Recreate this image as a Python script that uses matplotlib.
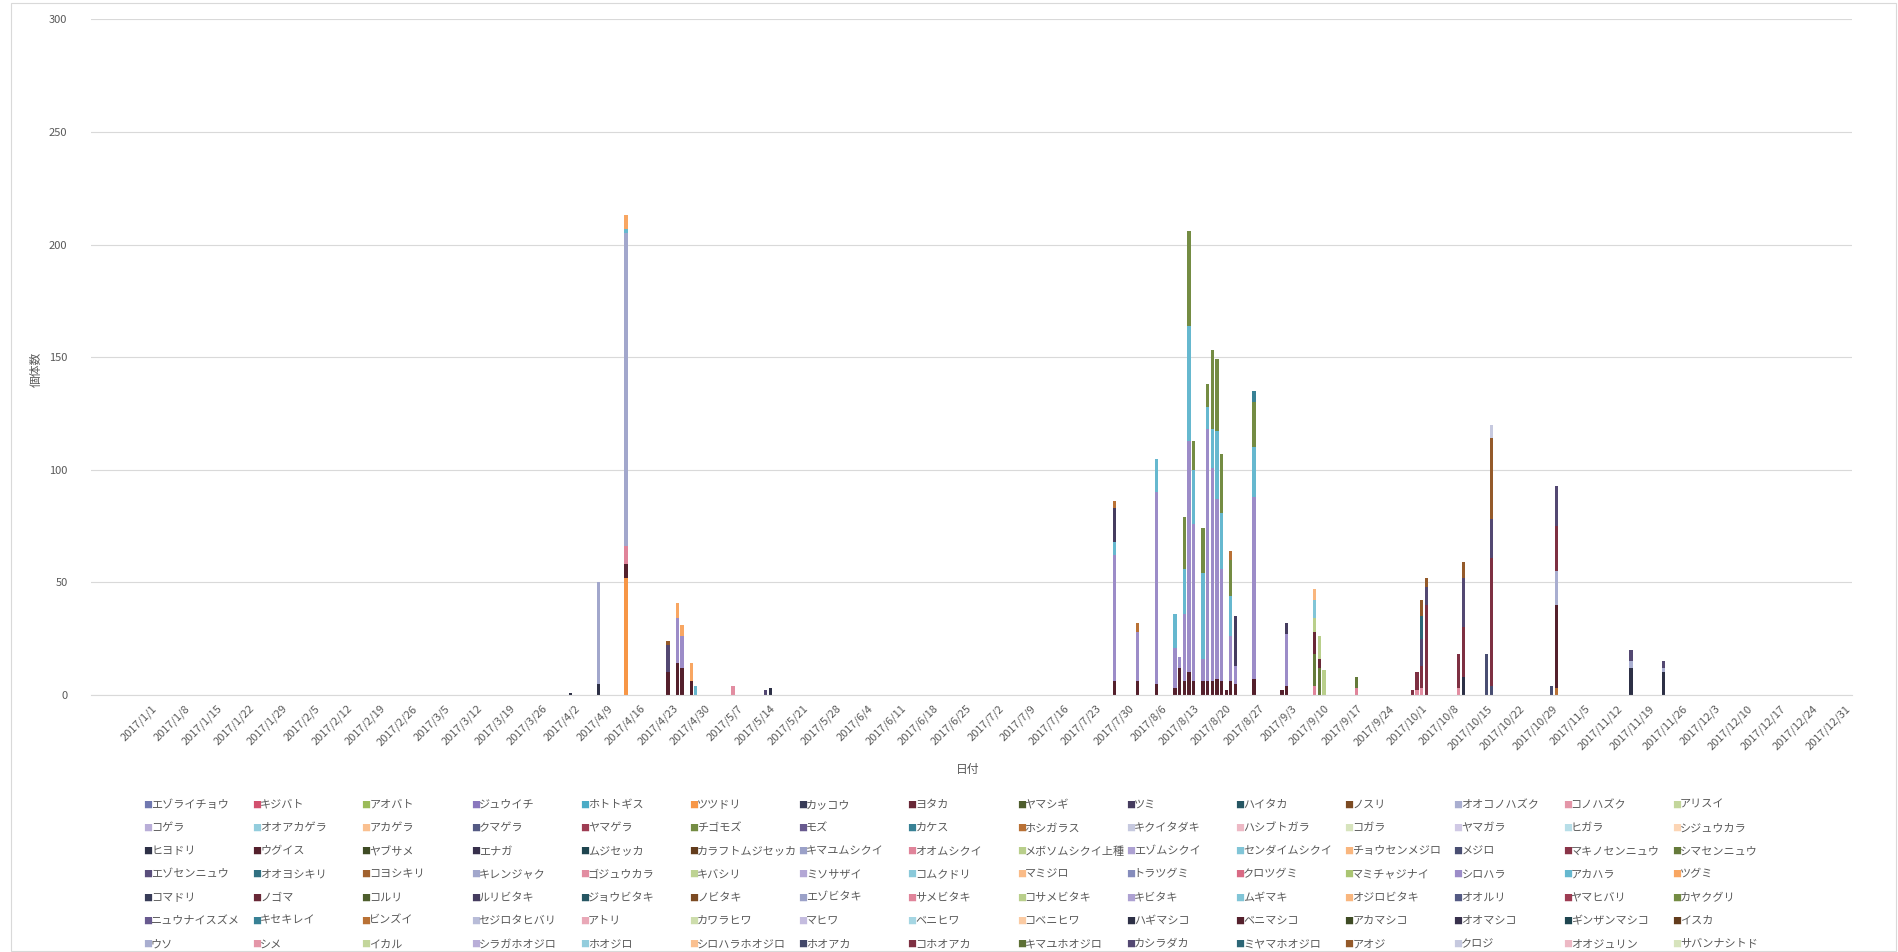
import numpy as np
import pandas as pd
import matplotlib
matplotlib.use('Agg')
import matplotlib.pyplot as plt
from matplotlib.colors import to_rgb
from matplotlib.patches import Rectangle

plt.rcParams['font.family'] = ['Noto Sans CJK JP', 'DejaVu Sans']

# species in legend (series) order
species = [
    'エゾライチョウ', 'キジバト', 'アオバト', 'ジュウイチ', 'ホトトギス', 'ツツドリ', 'カッコウ', 'ヨタカ',
    'ヤマシギ', 'ツミ', 'ハイタカ', 'ノスリ', 'オオコノハズク', 'コノハズク', 'アリスイ',
    'コゲラ', 'オオアカゲラ', 'アカゲラ', 'クマゲラ', 'ヤマゲラ', 'チゴモズ', 'モズ', 'カケス',
    'ホシガラス', 'キクイタダキ', 'ハシブトガラ', 'コガラ', 'ヤマガラ', 'ヒガラ', 'シジュウカラ',
    'ヒヨドリ', 'ウグイス', 'ヤブサメ', 'エナガ', 'ムジセッカ', 'カラフトムジセッカ', 'キマユムシクイ',
    'オオムシクイ', 'メボソムシクイ上種', 'エゾムシクイ', 'センダイムシクイ', 'チョウセンメジロ', 'メジロ',
    'マキノセンニュウ', 'シマセンニュウ',
    'エゾセンニュウ', 'オオヨシキリ', 'コヨシキリ', 'キレンジャク', 'ゴジュウカラ', 'キバシリ', 'ミソサザイ',
    'コムクドリ', 'マミジロ', 'トラツグミ', 'クロツグミ', 'マミチャジナイ', 'シロハラ', 'アカハラ', 'ツグミ',
    'コマドリ', 'ノゴマ', 'コルリ', 'ルリビタキ', 'ジョウビタキ', 'ノビタキ', 'エゾビタキ', 'サメビタキ',
    'コサメビタキ', 'キビタキ', 'ムギマキ', 'オジロビタキ', 'オオルリ', 'ヤマヒバリ', 'カヤクグリ',
    'ニュウナイスズメ', 'キセキレイ', 'ビンズイ', 'セジロタヒバリ', 'アトリ', 'カワラヒワ', 'マヒワ',
    'ベニヒワ', 'コベニヒワ', 'ハギマシコ', 'ベニマシコ', 'アカマシコ', 'オオマシコ', 'ギンザンマシコ', 'イスカ',
    'ウソ', 'シメ', 'イカル', 'シラガホオジロ', 'ホオジロ', 'シロハラホオジロ', 'ホオアカ', 'コホオアカ',
    'キマユホオジロ', 'カシラダカ', 'ミヤマホオジロ', 'アオジ', 'クロジ', 'オオジュリン', 'サバンナシトド',
]

# records (date, species, count)
rec_date = [
    '2017/4/1',
    '2017/4/7', '2017/4/7',
    '2017/4/13', '2017/4/13', '2017/4/13', '2017/4/13', '2017/4/13', '2017/4/13',
    '2017/4/22', '2017/4/22', '2017/4/22',
    '2017/4/24', '2017/4/24', '2017/4/24',
    '2017/4/25', '2017/4/25', '2017/4/25',
    '2017/4/27', '2017/4/27',
    '2017/4/28', '2017/5/6', '2017/5/13', '2017/5/14',
    '2017/7/27', '2017/7/27', '2017/7/27', '2017/7/27', '2017/7/27',
    '2017/8/1', '2017/8/1', '2017/8/1',
    '2017/8/5', '2017/8/5', '2017/8/5',
    '2017/8/9', '2017/8/9', '2017/8/9',
    '2017/8/10', '2017/8/10',
    '2017/8/11', '2017/8/11', '2017/8/11', '2017/8/11',
    '2017/8/12', '2017/8/12', '2017/8/12', '2017/8/12',
    '2017/8/13', '2017/8/13', '2017/8/13', '2017/8/13',
    '2017/8/15', '2017/8/15', '2017/8/15', '2017/8/15',
    '2017/8/16', '2017/8/16', '2017/8/16', '2017/8/16',
    '2017/8/17', '2017/8/17', '2017/8/17', '2017/8/17',
    '2017/8/18', '2017/8/18', '2017/8/18', '2017/8/18',
    '2017/8/19', '2017/8/19', '2017/8/19', '2017/8/19',
    '2017/8/20',
    '2017/8/21', '2017/8/21', '2017/8/21', '2017/8/21', '2017/8/21',
    '2017/8/22', '2017/8/22', '2017/8/22',
    '2017/8/26', '2017/8/26', '2017/8/26', '2017/8/26', '2017/8/26',
    '2017/9/1',
    '2017/9/2', '2017/9/2', '2017/9/2',
    '2017/9/8', '2017/9/8', '2017/9/8', '2017/9/8', '2017/9/8', '2017/9/8',
    '2017/9/9', '2017/9/9', '2017/9/9',
    '2017/9/10',
    '2017/9/17', '2017/9/17',
    '2017/9/29',
    '2017/9/30', '2017/9/30',
    '2017/10/1', '2017/10/1', '2017/10/1', '2017/10/1', '2017/10/1',
    '2017/10/2', '2017/10/2', '2017/10/2',
    '2017/10/9', '2017/10/9',
    '2017/10/10', '2017/10/10', '2017/10/10', '2017/10/10',
    '2017/10/15',
    '2017/10/16', '2017/10/16', '2017/10/16', '2017/10/16', '2017/10/16',
    '2017/10/29',
    '2017/10/30', '2017/10/30', '2017/10/30', '2017/10/30', '2017/10/30',
    '2017/11/15', '2017/11/15', '2017/11/15',
    '2017/11/22', '2017/11/22', '2017/11/22',
]
rec_bird = [
    'ヒヨドリ',
    'ヒヨドリ', 'キレンジャク',
    'ツツドリ', 'ウグイス', 'オオムシクイ', 'キレンジャク', 'アカハラ', 'ツグミ',
    'ウグイス', 'カシラダカ', 'アオジ',
    'ウグイス', 'シロハラ', 'ツグミ',
    'ウグイス', 'シロハラ', 'ツグミ',
    'ウグイス', 'ツグミ',
    'アカハラ', 'ゴジュウカラ', 'カシラダカ', 'ヒヨドリ',
    'ウグイス', 'シロハラ', 'アカハラ', 'ルリビタキ', 'ビンズイ',
    'ウグイス', 'シロハラ', 'ビンズイ',
    'ウグイス', 'シロハラ', 'アカハラ',
    'ウグイス', 'シロハラ', 'アカハラ',
    'ウグイス', 'シロハラ',
    'ウグイス', 'シロハラ', 'アカハラ', 'カヤクグリ',
    'ウグイス', 'シロハラ', 'アカハラ', 'カヤクグリ',
    'ウグイス', 'シロハラ', 'アカハラ', 'カヤクグリ',
    'ウグイス', 'シロハラ', 'アカハラ', 'カヤクグリ',
    'ウグイス', 'シロハラ', 'アカハラ', 'カヤクグリ',
    'ウグイス', 'シロハラ', 'アカハラ', 'カヤクグリ',
    'ウグイス', 'シロハラ', 'アカハラ', 'カヤクグリ',
    'ウグイス', 'シロハラ', 'アカハラ', 'カヤクグリ',
    'ウグイス',
    'ウグイス', 'シロハラ', 'アカハラ', 'カヤクグリ', 'ビンズイ',
    'ウグイス', 'シロハラ', 'ルリビタキ',
    'ウグイス', 'シロハラ', 'アカハラ', 'カヤクグリ', 'キセキレイ',
    'ウグイス',
    'ウグイス', 'シロハラ', 'ルリビタキ',
    'オオムシクイ', 'シマセンニュウ', 'ノゴマ', 'コサメビタキ', 'ムギマキ', 'オジロビタキ',
    'シマセンニュウ', 'ノゴマ', 'コサメビタキ',
    'コサメビタキ',
    'オオムシクイ', 'シマセンニュウ',
    'コホオアカ',
    'ゴジュウカラ', 'コホオアカ',
    'ゴジュウカラ', 'コホオアカ', 'カシラダカ', 'ミヤマホオジロ', 'アオジ',
    'コホオアカ', 'カシラダカ', 'アオジ',
    'ゴジュウカラ', 'コホオアカ',
    'ハギマシコ', 'コホオアカ', 'カシラダカ', 'アオジ',
    'メジロ',
    'メジロ', 'コホオアカ', 'カシラダカ', 'アオジ', 'クロジ',
    'メジロ',
    'ビンズイ', 'ベニマシコ', 'ウソ', 'コホオアカ', 'カシラダカ',
    'ハギマシコ', 'ウソ', 'カシラダカ',
    'ハギマシコ', 'ウソ', 'カシラダカ',
]
rec_count = [
    1,
    5, 45,
    52, 6, 8, 139, 2, 6,
    10, 12, 2,
    14, 20, 7,
    12, 14, 5,
    6, 8,
    4, 4, 2, 3,
    6, 56, 6, 15, 3,
    6, 22, 4,
    5, 85, 15,
    3, 18, 15,
    12, 5,
    6, 30, 20, 23,
    10, 103, 51, 42,
    6, 70, 24, 13,
    6, 10, 38, 20,
    6, 112, 10, 10,
    6, 95, 17, 35,
    7, 80, 30, 32,
    6, 50, 25, 26,
    2,
    6, 20, 18, 16, 4,
    5, 8, 22,
    7, 81, 22, 20, 5,
    2,
    4, 23, 5,
    4, 14, 10, 6, 8, 5,
    12, 4, 10,
    11,
    3, 5,
    2,
    2, 8,
    3, 10, 12, 10, 7,
    40, 8, 4,
    3, 15,
    8, 22, 22, 7,
    18,
    4, 57, 17, 36, 6,
    4,
    3, 37, 15, 20, 18,
    12, 3, 5,
    10, 2, 3,
]

# Excel-like theme palette: 6 accents, shaded per cycle
accent = ['#7078B0', '#D2506E', '#9BBB59', '#8A78BE', '#4BACC6', '#F79646']
shade = [0, -0.5, 0.4, -0.25, 0.6, -0.6, 0.3, -0.35, 0.35, 0.15, -0.5, 0.3, -0.25, 0.5, -0.6, 0.4, -0.4, 0.6]


def tone(c, s):
    r = np.array(to_rgb(c))
    if s >= 0:
        return tuple(r + (1 - r) * s)
    return tuple(r * (1 + s))


colors = [tone(accent[i % 6], shade[i // 6]) for i in range(len(species))]

days = pd.date_range('2017-01-01', '2017-12-31', freq='D')
df = pd.DataFrame({'date': pd.to_datetime(rec_date, format='%Y/%m/%d'),
                   'bird': rec_bird, 'count': rec_count})
tab = df.pivot_table(index='date', columns='bird', values='count', aggfunc='sum')
tab = tab.reindex(index=days, columns=species).fillna(0)

fig = plt.figure(figsize=(18.98, 9.52), dpi=100)
ax = fig.add_axes([0.048, 0.270, 0.9277, 0.7096])

x = np.arange(len(days))
bottom = np.zeros(len(days))
for i, sp in enumerate(species):
    v = tab[sp].values
    if v.sum() > 0:
        ax.bar(x, v, width=0.7, bottom=bottom, color=colors[i], linewidth=0)
    bottom += v

ax.set_ylim(0, 300)
ax.set_yticks(np.arange(0, 301, 50))
ax.set_xlim(-13, 365.5)
tick_idx = np.arange(0, len(days), 7)
ax.set_xticks(tick_idx)
ax.set_xticklabels([f'{d.year}/{d.month}/{d.day}' for d in days[tick_idx]],
                   rotation=45, ha='right', rotation_mode='anchor')
ax.tick_params(axis='x', length=0, pad=6, labelsize=8, labelcolor='#595959')
ax.tick_params(axis='y', length=0, pad=17, labelsize=8, labelcolor='#595959')
for s in ['top', 'right', 'left']:
    ax.spines[s].set_visible(False)
ax.spines['bottom'].set_color('#D9D9D9')
ax.grid(axis='y', color='#D9D9D9', linewidth=0.8)
ax.set_axisbelow(True)

fig.text(0.019, 0.612, '個体数', rotation=90, ha='center', va='center', fontsize=8.5, color='#595959')
fig.text(0.510, 0.192, '日付', ha='center', va='center', fontsize=8.5, color='#595959')

# legend laid out row by row like the source chart
x0, dx = 143 / 1898, 109.2 / 1898
y0, dy = 1 - 805 / 952, 23.2 / 952
for i, sp in enumerate(species):
    r, c = divmod(i, 15)
    fx = x0 + c * dx
    fy = y0 - r * dy
    fig.text(fx, fy, '■', color=colors[i], fontsize=6.5, ha='left', va='center')
    fig.text(fx + 8 / 1898, fy, sp, color='#595959', fontsize=8, ha='left', va='center')

fig.patches.append(Rectangle((0.006, 0.001), 0.993, 0.996, transform=fig.transFigure,
                             fill=False, edgecolor='#D9D9D9', linewidth=0.8))

fig.savefig('out.png', dpi=100, facecolor='white')
